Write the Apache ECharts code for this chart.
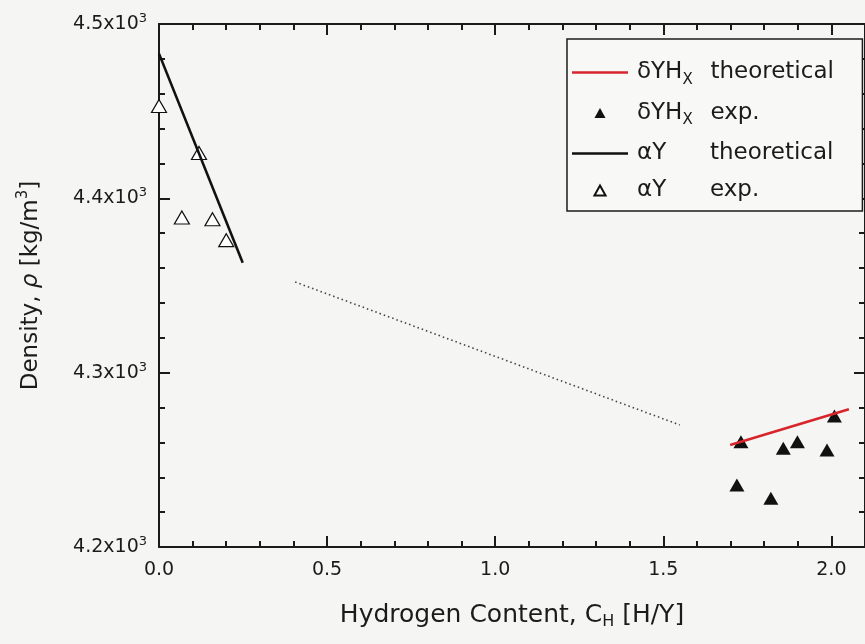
<!DOCTYPE html>
<html>
<head>
<meta charset="utf-8">
<script src="https://cdn.jsdelivr.net/npm/echarts@6/dist/echarts.min.js"></script>
<style>
  html, body { margin: 0; padding: 0; background: #f5f5f3; }
  #chart { width: 865px; height: 644px; }
</style>
</head>
<body>
<div id="chart"></div>
<script>
// Axis ticks and labels
const xTickValues = [0, 0.5, 1.0, 1.5, 2.0];
const xTickLabels = ['0.0', '0.5', '1.0', '1.5', '2.0'];
const yTickValues = [4200, 4300, 4400, 4500];
const yTickMantissa = ['4.2', '4.3', '4.4', '4.5'];   // shown as mantissa x10^3

// alpha-Y phase: theoretical line and measured points
const alphaTheoryX = [0.0, 0.249];
const alphaTheoryY = [4483, 4363];
const alphaExpX = [0.0, 0.068, 0.119, 0.159, 0.200];
const alphaExpY = [4453, 4389, 4426, 4388, 4376];

// dotted guide across the two-phase region
const guideX = [0.405, 1.549];
const guideY = [4352, 4270];

// delta-YHx phase: theoretical line and measured points
const deltaTheoryX = [1.699, 2.052];
const deltaTheoryY = [4258.5, 4279];
const deltaExpX = [1.719, 1.731, 1.820, 1.857, 1.899, 1.987, 2.009];
const deltaExpY = [4235.6, 4260.4, 4227.9, 4256.6, 4260.4, 4255.6, 4275.1];

const FONT = 'DejaVu Sans';
const INK = '#1b1b1b';
const zip = (xs, ys) => xs.map((x, i) => [x, ys[i]]);

// legend glyphs: a thin bar for the model lines, a small triangle for the measurements
const LINE_ICON = 'path://M0,0H56V2.6H0Z';
const TRI_ICON = 'path://M5,0L10,9L0,9Z';

const legendText = {
  'δYHx theoretical': '{nm|δYH}{sub|X}{tx|theoretical}',
  'δYHx exp.': '{nm|δYH}{sub|X}{tx|exp.}',
  'αY theoretical': '{nm2|αY}{tx|theoretical}',
  'αY exp.': '{nm2|αY}{tx|exp.}'
};

function xAxisDef(position, major) {
  return {
    type: 'value', gridIndex: 0, position: position,
    min: 0, max: 2.1, interval: major ? 0.5 : 0.1,
    axisLine: { show: major, onZero: false, lineStyle: { color: INK, width: 2 } },
    axisTick: major
      ? { show: true, inside: true, length: 11, customValues: xTickValues, lineStyle: { color: INK, width: 2 } }
      : { show: true, inside: true, length: 6, lineStyle: { color: INK, width: 2 } },
    axisLabel: (major && position === 'bottom')
      ? { show: true, customValues: xTickValues, margin: 14, fontFamily: FONT, fontSize: 19, color: INK,
          formatter: v => { const i = xTickValues.indexOf(v); return i < 0 ? '' : xTickLabels[i]; } }
      : { show: false },
    splitLine: { show: false }
  };
}

function yAxisDef(position) {
  const left = position === 'left';
  const def = {
    type: 'value', position: position, min: 4200, max: 4500, interval: 100,
    axisLine: { show: true, onZero: false, lineStyle: { color: INK, width: 2 } },
    axisTick: { show: true, inside: true, length: 11, lineStyle: { color: INK, width: 2 } },
    minorTick: { show: true, splitNumber: 5, length: 6, lineStyle: { color: INK, width: 2 } },
    axisLabel: left ? {
      show: true, margin: 12, fontFamily: FONT, fontSize: 19, color: INK, lineHeight: 24,
      formatter: v => { const i = yTickValues.indexOf(v); return i < 0 ? '' : yTickMantissa[i] + 'x10{s|3}'; },
      rich: { s: { fontFamily: FONT, fontSize: 13, lineHeight: 13, color: INK, verticalAlign: 'top' } }
    } : { show: false },
    splitLine: { show: false }
  };
  if (left) {
    def.name = 'Density, {it|ρ} [kg/m{sup|3}]';
    def.nameLocation = 'middle';
    def.nameGap = 113;
    def.nameRotate = 90;
    def.nameTextStyle = {
      fontFamily: FONT, fontSize: 23, color: INK, lineHeight: 30,
      rich: {
        it: { fontFamily: FONT, fontSize: 23, fontStyle: 'italic', color: INK, lineHeight: 30 },
        sup: { fontFamily: FONT, fontSize: 15, color: INK, lineHeight: 14, verticalAlign: 'top' }
      }
    };
  }
  return def;
}

const bottomMajor = xAxisDef('bottom', true);
bottomMajor.name = 'Hydrogen Content, C{sub|H} [H/Y]';
bottomMajor.nameLocation = 'middle';
bottomMajor.nameGap = 53;
bottomMajor.nameTextStyle = {
  fontFamily: FONT, fontSize: 25, color: INK, lineHeight: 30,
  rich: { sub: { fontFamily: FONT, fontSize: 16, color: INK, lineHeight: 10, verticalAlign: 'bottom' } }
};

const option = {
  backgroundColor: '#f5f5f3',
  animation: false,
  grid: { left: 159, top: 24, width: 710, height: 523, containLabel: false },
  xAxis: [bottomMajor, xAxisDef('bottom', false), xAxisDef('top', true), xAxisDef('top', false)],
  yAxis: [yAxisDef('left'), yAxisDef('right')],
  legend: {
    orient: 'vertical', left: 567, top: 39,
    padding: [22, 2, 9, 5],
    itemWidth: 56, itemHeight: 10, itemGap: 14,
    backgroundColor: '#f8f8f7', borderColor: INK, borderWidth: 1.5, borderRadius: 0,
    selectedMode: false,
    data: [
      { name: 'δYHx theoretical', icon: LINE_ICON },
      { name: 'δYHx exp.', icon: TRI_ICON },
      { name: 'αY theoretical', icon: LINE_ICON },
      { name: 'αY exp.', icon: TRI_ICON }
    ],
    formatter: name => legendText[name],
    textStyle: {
      fontFamily: FONT, fontSize: 23, color: INK,
      rich: {
        nm: { fontFamily: FONT, fontSize: 23, color: INK, lineHeight: 30, padding: [0, 0, 0, 4] },
        nm2: { fontFamily: FONT, fontSize: 23, color: INK, lineHeight: 30, width: 73, padding: [0, 0, 0, 4] },
        sub: { fontFamily: FONT, fontSize: 15, color: INK, lineHeight: 10, verticalAlign: 'bottom', width: 28 },
        tx: { fontFamily: FONT, fontSize: 23, color: INK, lineHeight: 30, width: 150 }
      }
    }
  },
  series: [
    {
      name: 'guide', type: 'line', data: zip(guideX, guideY),
      showSymbol: false, symbol: 'none', silent: true,
      lineStyle: { color: '#444', width: 1.6, type: [1.5, 3] }
    },
    {
      name: 'αY theoretical', type: 'line', data: zip(alphaTheoryX, alphaTheoryY),
      showSymbol: false, symbol: 'none',
      lineStyle: { color: '#111', width: 2.6 }, itemStyle: { color: '#111' }
    },
    {
      name: 'δYHx theoretical', type: 'line', data: zip(deltaTheoryX, deltaTheoryY),
      showSymbol: false, symbol: 'none',
      lineStyle: { color: '#d8252b', width: 2.6 }, itemStyle: { color: '#d8252b' }
    },
    {
      name: 'αY exp.', type: 'scatter', data: zip(alphaExpX, alphaExpY),
      symbol: 'triangle', symbolSize: [15, 13],
      itemStyle: { color: '#ffffff', borderColor: '#111', borderWidth: 1.2, opacity: 1 }
    },
    {
      name: 'δYHx exp.', type: 'scatter', data: zip(deltaExpX, deltaExpY),
      symbol: 'triangle', symbolSize: [15, 13],
      itemStyle: { color: '#111', opacity: 1 }
    }
  ]
};

const chart = echarts.init(document.getElementById('chart'), null, { renderer: 'canvas' });
chart.setOption(option);
</script>
</body>
</html>
